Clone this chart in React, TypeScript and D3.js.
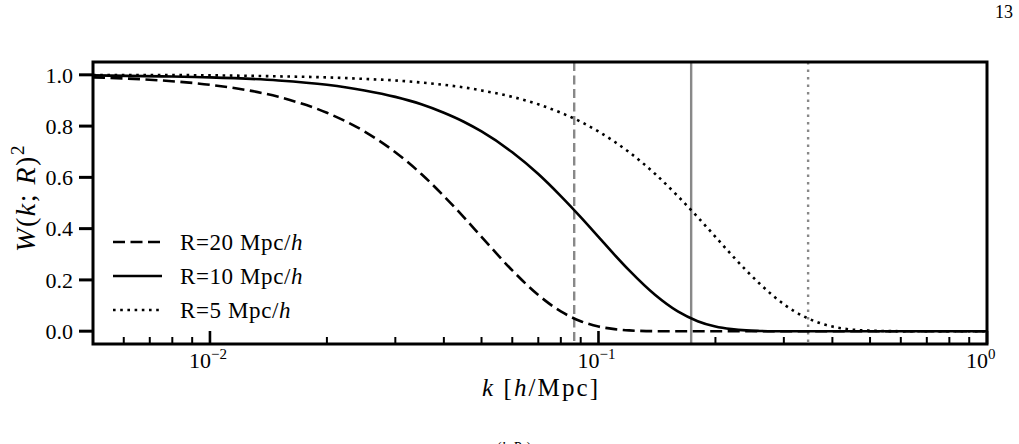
import * as d3 from "d3";

const WIDTH = 1019;
const HEIGHT = 444;

const kGrid = [
  0.005, 0.0075, 0.01, 0.015, 0.02, 0.025, 0.03, 0.035, 0.04, 0.045, 0.05,
  0.06, 0.07, 0.08, 0.09, 0.1, 0.11, 0.12, 0.14, 0.16, 0.18, 0.2, 0.22, 0.24,
  0.26, 0.28, 0.3, 0.32, 0.36, 0.4, 0.45, 0.5, 0.6, 0.7, 0.8, 1.0,
];
const windowR20 = [
  0.99, 0.978, 0.961, 0.914, 0.852, 0.779, 0.698, 0.613, 0.527, 0.445, 0.368,
  0.237, 0.141, 0.077, 0.039, 0.018, 0.008, 0.003, 0.0, 0, 0, 0, 0, 0, 0, 0,
  0, 0, 0, 0, 0, 0, 0, 0, 0, 0,
];
const windowR10 = [
  0.998, 0.994, 0.99, 0.978, 0.961, 0.939, 0.914, 0.885, 0.852, 0.817, 0.779,
  0.698, 0.613, 0.527, 0.445, 0.368, 0.298, 0.237, 0.141, 0.077, 0.039, 0.018,
  0.008, 0.003, 0.001, 0.0, 0, 0, 0, 0, 0, 0, 0, 0, 0, 0,
];
const windowR5 = [
  0.999, 0.999, 0.998, 0.994, 0.99, 0.984, 0.978, 0.97, 0.961, 0.951, 0.939,
  0.914, 0.885, 0.852, 0.817, 0.779, 0.739, 0.698, 0.613, 0.527, 0.445, 0.368,
  0.298, 0.237, 0.185, 0.141, 0.105, 0.077, 0.039, 0.018, 0.006, 0.002, 0.0,
  0, 0, 0,
];

// grey markers at sqrt(3)/R
const markerK = [0.0866, 0.1732, 0.3464];
const seriesLabels = ["R=20", "R=10", "R=5"];

const yTicks = [0, 0.2, 0.4, 0.6, 0.8, 1.0];
const xMajor = [0.01, 0.1, 1];
const xMajorExp = ["−2", "−1", "0"];

const dashes = ["12,5.5", null, "2.6,4.6"];
const greyDashes = ["9,4.5", null, "2.5,5"];

const FONT = "'Liberation Serif', 'DejaVu Serif', serif";

const margin = { top: 62, right: 32, bottom: 100, left: 93 };
const plotW = WIDTH - margin.left - margin.right;
const plotH = HEIGHT - margin.top - margin.bottom;

export default function App() {
  const x = d3.scaleLog().domain([0.005, 1]).range([0, plotW]);
  const y = d3.scaleLinear().domain([-0.05, 1.05]).range([plotH, 0]);

  const line = d3
    .line<[number, number]>()
    .x((d) => x(d[0]))
    .y((d) => y(d[1]))
    .curve(d3.curveMonotoneX);

  const series = [windowR20, windowR10, windowR5].map((vals) =>
    kGrid.map((k, i) => [k, vals[i]] as [number, number]),
  );

  const minor: number[] = [];
  for (const dec of [0.001, 0.01, 0.1])
    for (let m = 2; m <= 9; m++) {
      const v = m * dec;
      if (v > 0.005 && v < 1) minor.push(v);
    }

  return (
    <svg
      width={WIDTH}
      height={HEIGHT}
      style={{ position: "fixed", left: 0, top: 0, background: "#fff" }}
      fontFamily={FONT}
    >
      <text x={1013} y={18} fontSize={18} textAnchor="end">
        13
      </text>

      <g transform={`translate(${margin.left},${margin.top})`}>
        {markerK.map((k, i) => (
          <line
            key={`v${i}`}
            x1={x(k)}
            x2={x(k)}
            y1={0}
            y2={plotH}
            stroke="#888"
            strokeWidth={2.4}
            strokeDasharray={greyDashes[i] ?? undefined}
          />
        ))}

        {series.map((pts, i) => (
          <path
            key={`s${i}`}
            d={line(pts) ?? ""}
            fill="none"
            stroke="#000"
            strokeWidth={2.6}
            strokeDasharray={dashes[i] ?? undefined}
          />
        ))}

        {/* legend */}
        {seriesLabels.map((lab, i) => {
          const ly = 180 + i * 34;
          return (
            <g key={`l${i}`}>
              <line
                x1={20}
                x2={69}
                y1={ly}
                y2={ly}
                stroke="#000"
                strokeWidth={2.6}
                strokeDasharray={dashes[i] ?? undefined}
              />
              <text x={87} y={ly + 7.5} fontSize={23} letterSpacing={0.6}>
                {lab} Mpc/<tspan fontStyle="italic">h</tspan>
              </text>
            </g>
          );
        })}

        {/* y axis ticks (outward) */}
        {yTicks.map((t) => (
          <g key={`y${t}`}>
            <line
              x1={-14}
              x2={0}
              y1={y(t)}
              y2={y(t)}
              stroke="#000"
              strokeWidth={3}
            />
            <text
              x={-20}
              y={y(t)}
              dy="0.35em"
              fontSize={22}
              textAnchor="end"
            >
              {t.toFixed(1)}
            </text>
          </g>
        ))}

        {/* x axis ticks (inward) */}
        {minor.map((v) => (
          <line
            key={`m${v}`}
            x1={x(v)}
            x2={x(v)}
            y1={plotH}
            y2={plotH - 7}
            stroke="#000"
            strokeWidth={2}
          />
        ))}
        {xMajor.map((v, i) => (
          <g key={`x${v}`}>
            <line
              x1={x(v)}
              x2={x(v)}
              y1={plotH}
              y2={plotH - 13}
              stroke="#000"
              strokeWidth={2.6}
            />
            <text x={x(v) - 21} y={plotH + 24} fontSize={22}>
              10
              <tspan dy={-9} fontSize={15}>
                {xMajorExp[i]}
              </tspan>
            </text>
          </g>
        ))}

        <rect
          x={0}
          y={0}
          width={plotW}
          height={plotH}
          fill="none"
          stroke="#000"
          strokeWidth={3}
        />

        <text
          x={389}
          y={plotH + 52}
          fontSize={25}
          textLength={116}
          lengthAdjust="spacing"
        >
          <tspan fontStyle="italic">k</tspan> [<tspan fontStyle="italic">h</tspan>
          /Mpc]
        </text>

        <text
          transform={`translate(${-58},${plotH / 2 - 5}) rotate(-90)`}
          fontSize={28}
          textAnchor="middle"
          letterSpacing={1.5}
        >
          <tspan fontStyle="italic">W</tspan>(<tspan fontStyle="italic">k</tspan>;{" "}
          <tspan fontStyle="italic">R</tspan>)
          <tspan dy={-11} fontSize={19}>
            2
          </tspan>
        </text>
      </g>

      {/* cut-off caption text at the page bottom */}
      <text x={497} y={452} fontSize={14}>
        (<tspan fontStyle="italic">k</tspan>
        <tspan fontSize={10}>2</tspan>
        <tspan fontStyle="italic">R</tspan>
        <tspan fontSize={10}>2</tspan>)
      </text>
      <text x={966} y={451} fontSize={11}>
        1
      </text>
    </svg>
  );
}
